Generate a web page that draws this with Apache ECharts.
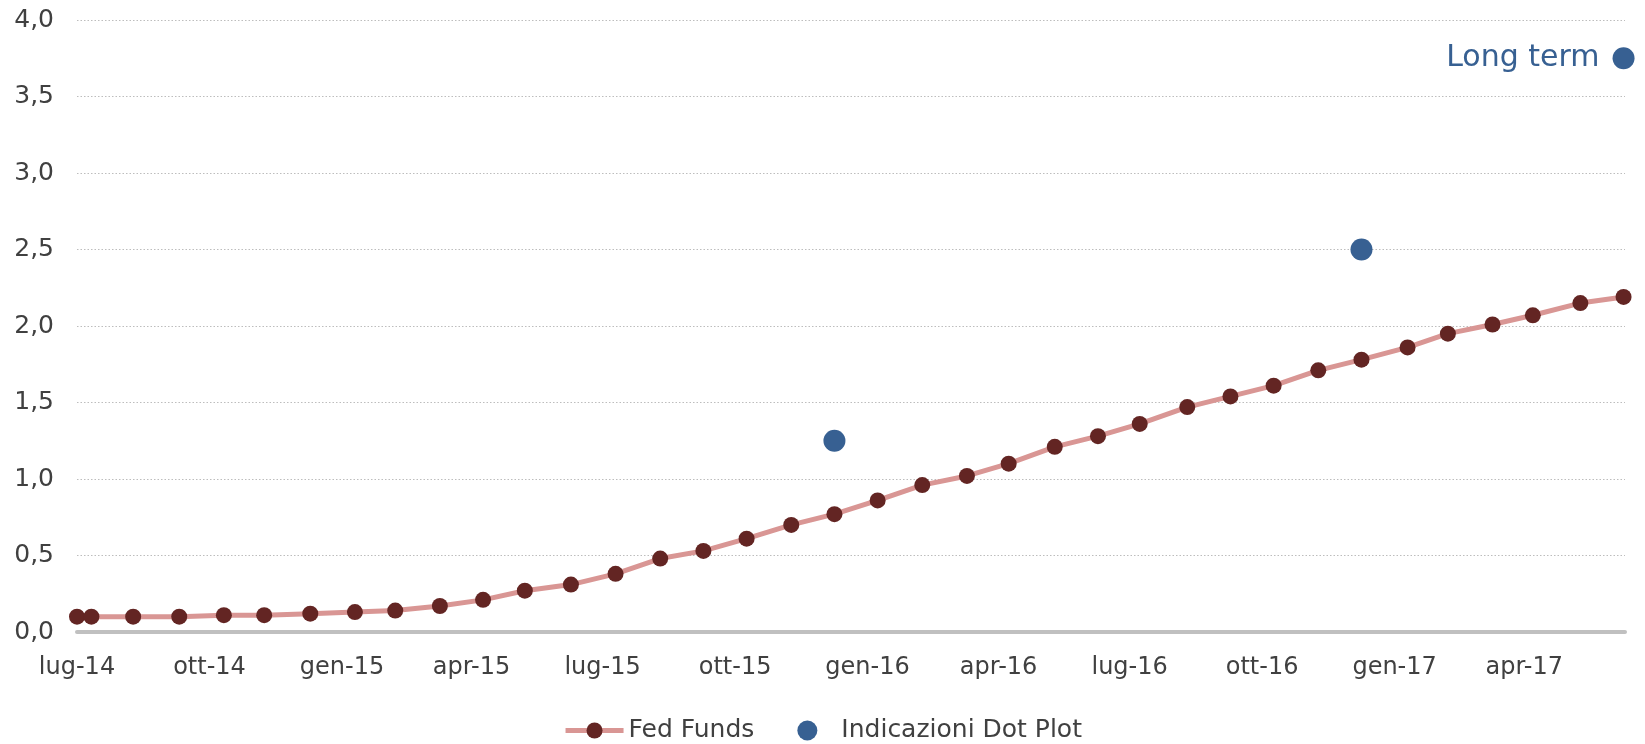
<!DOCTYPE html>
<html>
<head>
<meta charset="utf-8">
<script src="https://cdn.jsdelivr.net/npm/echarts@6/dist/echarts.min.js"></script>
<style>
  html, body { margin: 0; padding: 0; background: #ffffff; }
  #chart { width: 1645px; height: 744px; }
</style>
</head>
<body>
<div id="chart"></div>
<script>
// Fed Funds path (monthly observations)
const fedDates = [
  '2014-07-01', '2014-07-11', '2014-08-09', '2014-09-10', '2014-10-11', '2014-11-08',
  '2014-12-10', '2015-01-10', '2015-02-07', '2015-03-10', '2015-04-09', '2015-05-08',
  '2015-06-09', '2015-07-10', '2015-08-10', '2015-09-09', '2015-10-09', '2015-11-09',
  '2015-12-09', '2016-01-08', '2016-02-08', '2016-03-10', '2016-04-08', '2016-05-10',
  '2016-06-09', '2016-07-08', '2016-08-10', '2016-09-09', '2016-10-09', '2016-11-09',
  '2016-12-09', '2017-01-10', '2017-02-07', '2017-03-10', '2017-04-07', '2017-05-10',
  '2017-06-09'
];
const fedValues = [
  0.10, 0.10, 0.10, 0.10, 0.11, 0.11,
  0.12, 0.13, 0.14, 0.17, 0.21, 0.27,
  0.31, 0.38, 0.48, 0.53, 0.61, 0.70,
  0.77, 0.86, 0.96, 1.02, 1.10, 1.21,
  1.28, 1.36, 1.47, 1.54, 1.61, 1.71,
  1.78, 1.86, 1.95, 2.01, 2.07, 2.15,
  2.19
];

// FOMC dot plot indications (end-2015, end-2016, long term)
const dotDates  = ['2015-12-09', '2016-12-09', '2017-06-09'];
const dotValues = [1.25, 2.50, 3.75];
const dotLabels = ['', '', 'Long term'];

// Quarterly axis ticks
const tickDates  = ['2014-07-01', '2014-10-01', '2015-01-01', '2015-04-01', '2015-07-01', '2015-10-01',
                    '2016-01-01', '2016-04-01', '2016-07-01', '2016-10-01', '2017-01-01', '2017-04-01'];
const tickLabels = ['lug-14', 'ott-14', 'gen-15', 'apr-15', 'lug-15', 'ott-15',
                    'gen-16', 'apr-16', 'lug-16', 'ott-16', 'gen-17', 'apr-17'];

const xMin = '2014-07-01';
const xMax = '2017-06-10';

// dates are placed on a numeric (millisecond) scale
function toTime(s) {
  const p = s.split('-').map(Number);
  return Date.UTC(p[0], p[1] - 1, p[2]);
}
const tickTimes = tickDates.map(toTime);

const FONT = 'DejaVu Sans';
const TEXT = '#404040';
const LINE = '#d99694';
const MARKER = '#632523';
const DOT = '#376092';

const chart = echarts.init(document.getElementById('chart'), null, { renderer: 'canvas' });

chart.setOption({
  animation: false,
  backgroundColor: '#ffffff',
  grid: { left: 77, right: 20, top: 20, bottom: 112, containLabel: false },
  xAxis: {
    type: 'value',
    min: toTime(xMin),
    max: toTime(xMax),
    axisLine: { show: true, lineStyle: { color: '#c0c0c0', width: 4 } },
    axisTick: { show: false },
    splitLine: { show: false },
    axisLabel: {
      customValues: tickTimes,
      margin: 24,
      color: TEXT,
      fontFamily: FONT,
      fontSize: 24,
      formatter: function (v) {
        const i = tickTimes.indexOf(v);
        return i >= 0 ? tickLabels[i] : '';
      }
    }
  },
  yAxis: {
    type: 'value',
    min: 0,
    max: 4,
    interval: 0.5,
    axisLine: { show: false },
    axisTick: { show: false },
    splitLine: { show: true, lineStyle: { color: '#bdbdbd', width: 1, type: [1.5, 2] } },
    axisLabel: {
      margin: 23,
      color: TEXT,
      fontFamily: FONT,
      fontSize: 25,
      formatter: function (v) { return v.toFixed(1).replace('.', ','); }
    }
  },
  legend: {
    left: 'center',
    top: 713,
    itemWidth: 58,
    itemHeight: 20,
    itemGap: 43,
    textStyle: { color: TEXT, fontFamily: FONT, fontSize: 25 },
    data: [
      {
        name: 'Fed Funds',
        itemStyle: { color: MARKER },
        lineStyle: { color: LINE, width: 5 }
      },
      {
        name: 'Indicazioni Dot Plot',
        itemStyle: { color: DOT, opacity: 1 }
      }
    ]
  },
  series: [
    {
      name: 'Fed Funds',
      type: 'line',
      data: fedDates.map((d, i) => [toTime(d), fedValues[i]]),
      symbol: 'circle',
      symbolSize: 16,
      showSymbol: true,
      lineStyle: { color: LINE, width: 5 },
      itemStyle: { color: MARKER },
      z: 2
    },
    {
      name: 'Indicazioni Dot Plot',
      type: 'scatter',
      data: dotDates.map((d, i) => ({
        value: [toTime(d), dotValues[i]],
        label: { show: dotLabels[i] !== '', formatter: dotLabels[i] }
      })),
      symbol: 'circle',
      symbolSize: 22,
      itemStyle: { color: DOT, opacity: 1 },
      label: {
        position: 'left',
        distance: 13,
        color: DOT,
        fontFamily: FONT,
        fontSize: 30
      },
      z: 3
    }
  ]
});
</script>
</body>
</html>
